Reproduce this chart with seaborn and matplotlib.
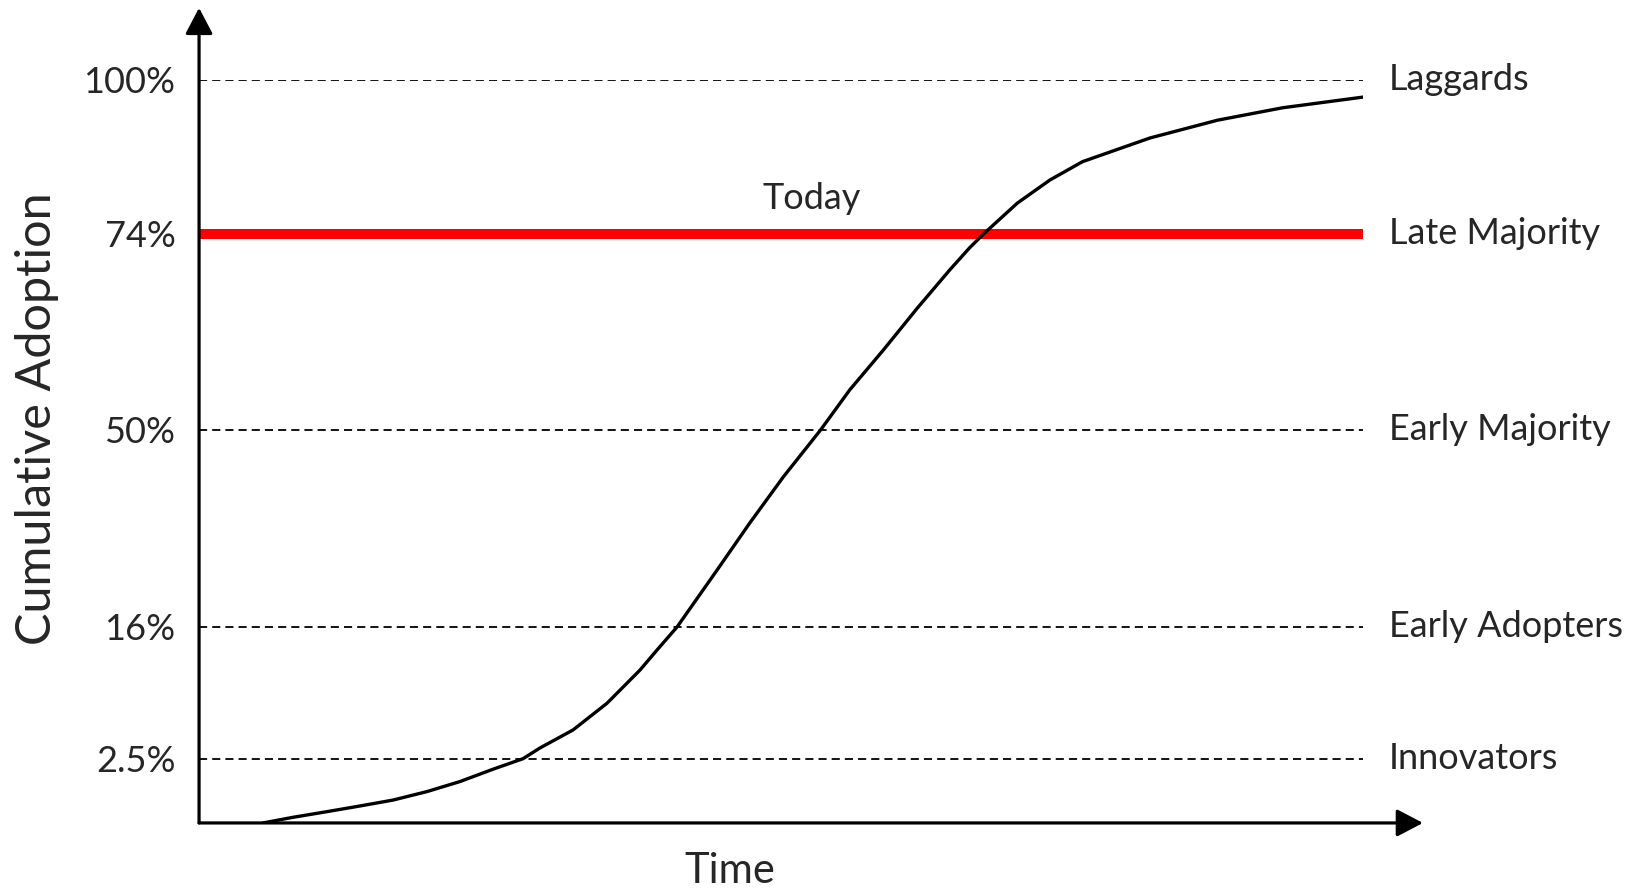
"""
Diffusion of innovation - cumulative adoption S-curve
"""

import numpy as np
import matplotlib.pyplot as plt
from matplotlib.scale import FuncScale
import seaborn as sns

sns.set_theme(style="white")
plt.rcParams["font.family"] = ["Lato", "DejaVu Sans"]

# ── Data ─────────────────────────────────────────────────────────────────────
# time in arbitrary units (0 = origin, 100 = end of the guide lines)
time = [5.5, 8.08, 11.0, 13.83, 16.67, 19.59, 22.42, 25.26, 27.84, 29.3, 32.13,
        35.05, 37.89, 39.35, 41.07, 44.5, 47.3, 50.2, 53.4, 55.9, 58.8, 61.7,
        64.5, 66.2, 67.4, 70.3, 73.1, 75.9, 81.7, 87.5, 93.1, 100.0]
adoption = [0.0, 0.22, 0.44, 0.66, 0.89, 1.22, 1.61, 2.09, 2.5, 3.6, 5.44,
            8.18, 11.59, 13.64, 16.0, 25.8, 33.9, 41.9, 50.0, 54.9, 59.8, 64.9,
            69.6, 72.3, 74.0, 79.2, 83.1, 86.2, 90.2, 93.2, 95.3, 97.1]

tick_pct = [2.5, 16, 50, 74, 100]
tick_labels = ["2.5%", "16%", "50%", "74%", "100%"]
segments = ["Innovators", "Early Adopters", "Early Majority", "Late Majority", "Laggards"]
today_pct = 74

# the picture spaces the thresholds unevenly: piecewise-linear axis
scale_pct = [0, 2.5, 16, 50, 74, 100]
scale_pos = [0, 64.3, 196, 393, 589, 743]


def fwd(v):
    return np.interp(v, scale_pct, scale_pos)


def inv(v):
    return np.interp(v, scale_pos, scale_pct)


# ── Figure ───────────────────────────────────────────────────────────────────
fig = plt.figure(figsize=(16.41, 8.89), dpi=100)
ax = fig.add_axes([0.1213, 0.0743, 0.7093, 0.8358])
ax.set_yscale(FuncScale(ax.yaxis, (fwd, inv)))
ax.set_xlim(0, 100)
ax.set_ylim(0, 100)

# guide lines
dashed = [p for p in tick_pct if p != today_pct]
ax.hlines(dashed, 0, 100, colors="black", linewidth=1.3,
          linestyles=(0, (4.5, 2.8)), snap=True)
ax.hlines(today_pct, 0, 100, colors="#ff0000", linewidth=7.2)

# adoption curve
sns.lineplot(x=time, y=adoption, ax=ax, color="black", linewidth=2.4,
             estimator=None, sort=False)

# axes with arrow heads
for s in ax.spines.values():
    s.set_visible(False)
arrow = dict(arrowstyle="-|>,head_length=0.8,head_width=0.42", lw=2.3,
             color="black", mutation_scale=20, shrinkA=0, shrinkB=0)
ax.annotate("", xy=(0, 1.097), xytext=(0, 0), xycoords="axes fraction",
            textcoords="axes fraction", arrowprops=arrow, annotation_clip=False)
ax.annotate("", xy=(1.0515, 0), xytext=(0, 0), xycoords="axes fraction",
            textcoords="axes fraction", arrowprops=arrow, annotation_clip=False)

# ticks and labels
ax.set_xticks([])
ax.set_yticks(tick_pct)
ax.set_yticklabels(tick_labels, fontsize=26)
ax.tick_params(axis="y", length=0, pad=17)
ax.grid(False)

for p, name in zip(tick_pct, segments):
    ax.text(102.2, p, name, fontsize=26, va="center", ha="left", clip_on=False)

ax.text(52.6, 80.0, "Today", fontsize=26, ha="center", va="center")

fig.text(37 / 1641, 1 - 419 / 889, "Cumulative Adoption", rotation=90,
         fontsize=35, ha="center", va="center")
fig.text(730 / 1641, 1 - 871 / 889, "Time", fontsize=30, ha="center", va="center")

plt.savefig("out.png", dpi=100)
